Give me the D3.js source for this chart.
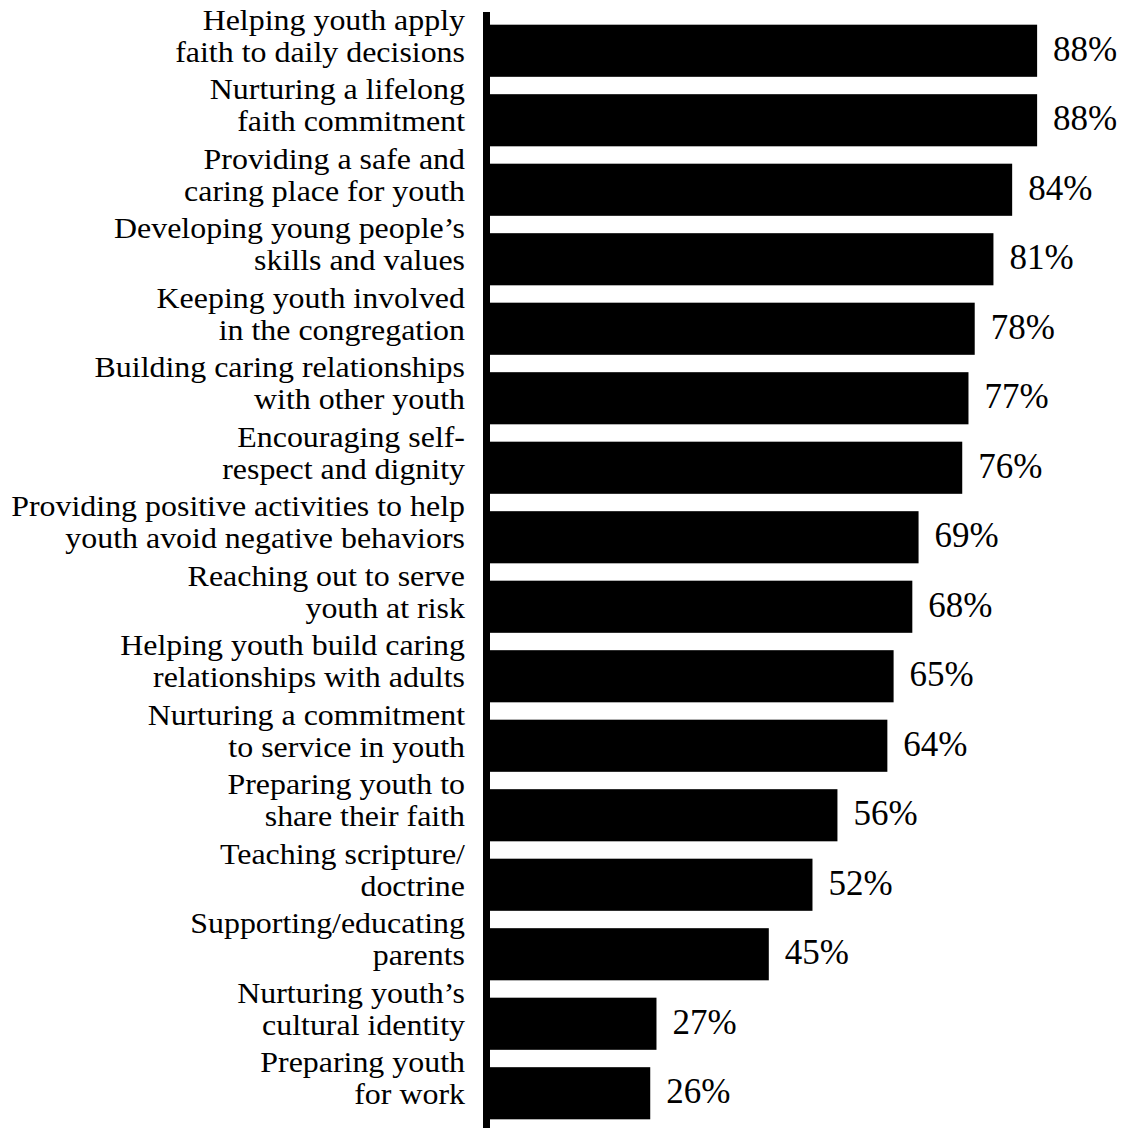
<!DOCTYPE html>
<html>
<head>
<meta charset="utf-8">
<script src="https://cdn.jsdelivr.net/npm/d3@7"></script>
<style>
  body { margin: 0; background: #fff; }
  text { font-family: "Liberation Serif", "Times New Roman", serif; fill: #000; }
</style>
</head>
<body>
<div id="chart"></div>
<script>
// categories, two lines each as printed
var labelTop = [
  "Helping youth apply",
  "Nurturing a lifelong",
  "Providing a safe and",
  "Developing young people\u2019s",
  "Keeping youth involved",
  "Building caring relationships",
  "Encouraging self-",
  "Providing positive activities to help",
  "Reaching out to serve",
  "Helping youth build caring",
  "Nurturing a commitment",
  "Preparing youth to",
  "Teaching scripture/",
  "Supporting/educating",
  "Nurturing youth\u2019s",
  "Preparing youth"
];
var labelBottom = [
  "faith to daily decisions",
  "faith commitment",
  "caring place for youth",
  "skills and values",
  "in the congregation",
  "with other youth",
  "respect and dignity",
  "youth avoid negative behaviors",
  "youth at risk",
  "relationships with adults",
  "to service in youth",
  "share their faith",
  "doctrine",
  "parents",
  "cultural identity",
  "for work"
];
var values = [88, 88, 84, 81, 78, 77, 76, 69, 68, 65, 64, 56, 52, 45, 27, 26];

var W = 1128, H = 1128;

var data = values.map(function(v, i) {
  return { id: i, top: labelTop[i], bottom: labelBottom[i], value: v };
});

var svg = d3.select("#chart")
  .append("svg")
  .attr("width", W)
  .attr("height", H);

var x = d3.scaleLinear()
  .domain([0, 100])
  .range([488, 1112]);

var y = d3.scaleBand()
  .domain(data.map(function(d) { return d.id; }))
  .range([16, 1128])
  .paddingInner(0.25)
  .paddingOuter(0.125);

// bars
svg.selectAll(".bar")
  .data(data)
  .enter().append("rect")
  .attr("class", "bar")
  .attr("x", x(0))
  .attr("y", function(d) { return y(d.id); })
  .attr("width", function(d) { return x(d.value) - x(0); })
  .attr("height", y.bandwidth())
  .style("fill", "#000");

// the thick vertical axis line
svg.append("rect")
  .attr("x", 483)
  .attr("y", 12)
  .attr("width", 7)
  .attr("height", H - 12)
  .style("fill", "#000");

// category labels, right aligned; the print is a bit wider than plain Times
var lab = svg.selectAll(".label")
  .data(data)
  .enter().append("g")
  .attr("class", "label")
  .attr("transform", function(d) {
    return "translate(465," + (y(d.id) + y.bandwidth() / 2) + ") scale(1.12,1)";
  });

lab.append("text")
  .attr("text-anchor", "end")
  .attr("y", -21)
  .style("font-size", "28.5px")
  .text(function(d) { return d.top; });

lab.append("text")
  .attr("text-anchor", "end")
  .attr("y", 11)
  .style("font-size", "28.5px")
  .text(function(d) { return d.bottom; });

// value labels
svg.selectAll(".val")
  .data(data)
  .enter().append("text")
  .attr("class", "val")
  .attr("x", function(d) { return x(d.value) + 16; })
  .attr("y", function(d) { return y(d.id) + y.bandwidth() / 2 + 10; })
  .style("font-size", "35px")
  .text(function(d) { return d.value + "%"; });
</script>
</body>
</html>
